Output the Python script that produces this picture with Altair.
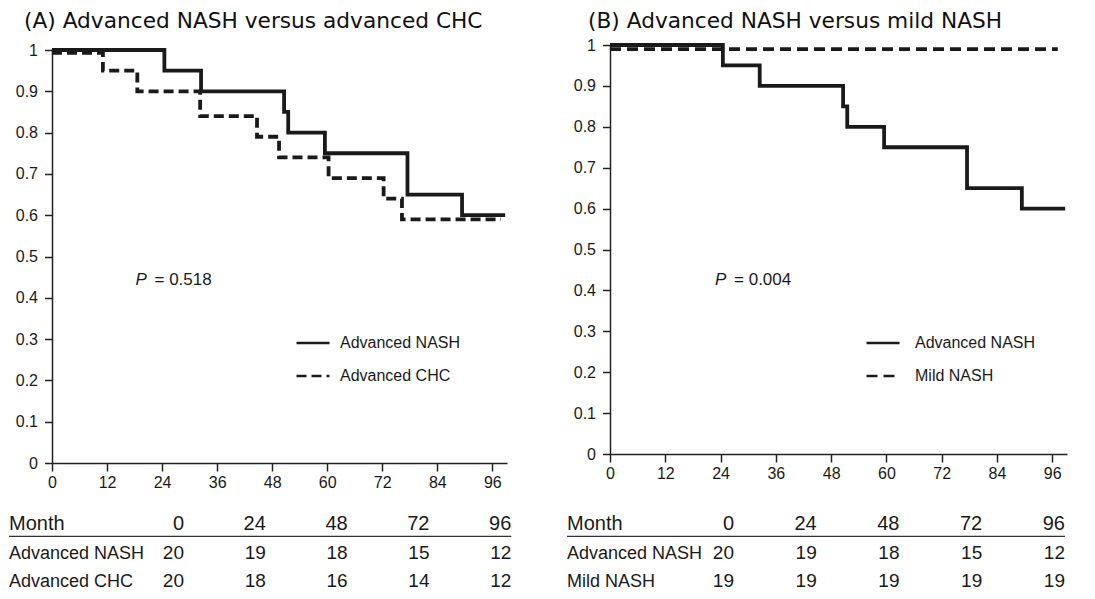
import altair as alt
import pandas as pd

# ---------------- data ----------------
x_ticks = [0, 12, 24, 36, 48, 60, 72, 84, 96]
y_ticks = [0, 0.1, 0.2, 0.3, 0.4, 0.5, 0.6, 0.7, 0.8, 0.9, 1.0]

# Kaplan-Meier steps (month, survival)
adv_nash_month = [0, 24.5, 32.5, 50.6, 51.5, 59.5, 77.5, 89.4, 98.8]
adv_nash_surv = [1.0, 0.95, 0.90, 0.85, 0.80, 0.75, 0.65, 0.60, 0.60]
adv_chc_month = [0, 11.1, 18.6, 32.3, 44.7, 49.5, 60.3, 72.3, 76.3, 97.9]
adv_chc_surv = [0.993, 0.95, 0.90, 0.84, 0.79, 0.74, 0.69, 0.64, 0.59, 0.59]
mild_nash_month = [0, 97.2]
mild_nash_surv = [0.99, 0.99]

# numbers at risk
risk_months = [0, 24, 48, 72, 96]
risk_adv_nash = [20, 19, 18, 15, 12]
risk_adv_chc = [20, 18, 16, 14, 12]
risk_mild_nash = [19, 19, 19, 19, 19]

panel_titles = ["(A) Advanced NASH versus advanced CHC",
                "(B) Advanced NASH versus mild NASH"]
p_values = ["0.518", "0.004"]
p_pos = [(18.2, 0.444), (22.8, 0.425)]

FONT = "Liberation Sans"
INK = "#1a1a1a"


def km_frame(series):
    rows = []
    for name, months, surv in series:
        for m, s in zip(months, surv):
            rows.append({"month": m, "surv": s, "group": name})
    return pd.DataFrame(rows)


def plot_panel(title, series, p_text, p_xy, width, height, y_range,
               legend_x, legend_y, label_offset, dash_range,
               title_dx, title_offset):
    names = [s[0] for s in series]
    df = km_frame(series)
    base = alt.Chart(df)
    lines = base.mark_line(interpolate="step-after", strokeWidth=3.8,
                           color=INK, strokeCap="butt").encode(
        x=alt.X("month:Q",
                scale=alt.Scale(domain=[0, 99.2], nice=False, zero=False),
                axis=alt.Axis(values=x_ticks, title=None, format="d",
                              tickSize=8, labelPadding=3, labelFontSize=16,
                              labelFlush=False)),
        y=alt.Y("surv:Q",
                scale=alt.Scale(domain=[0, 1], nice=False, range=y_range),
                axis=alt.Axis(values=y_ticks, title=None, format=".1~f",
                              tickSize=7.5, labelPadding=7, labelFontSize=16,
                              labelFlush=False)),
        strokeDash=alt.StrokeDash(
            "group:N",
            scale=alt.Scale(domain=names, range=[[1, 0], dash_range]),
            legend=alt.Legend(title=None, orient="none", legendX=legend_x,
                              legendY=legend_y, symbolType="stroke",
                              symbolSize=1089, symbolStrokeWidth=2.6,
                              symbolStrokeColor=INK, labelFontSize=16,
                              labelFont=FONT, labelColor=INK,
                              labelOffset=label_offset, padding=0,
                              rowPadding=7)),
        detail="group:N",
    )
    ann = pd.DataFrame({"month": [p_xy[0]], "surv": [p_xy[1]],
                        "p": ["P"], "val": ["= " + p_text]})
    p_lab = alt.Chart(ann).mark_text(align="left", baseline="middle",
                                     fontStyle="italic", fontSize=17,
                                     font=FONT, color=INK).encode(
        x="month:Q", y="surv:Q", text="p:N")
    p_val = alt.Chart(ann).mark_text(align="left", baseline="middle", dx=19,
                                     fontSize=17, font=FONT, color=INK).encode(
        x="month:Q", y="surv:Q", text="val:N")
    return alt.layer(lines, p_lab, p_val).properties(
        width=width, height=height,
        title=alt.TitleParams(title, anchor="start", frame="group",
                              dx=title_dx, font="DejaVu Sans", fontSize=21.7,
                              fontWeight="normal", color="#111",
                              offset=title_offset))


def table_panel(row_names, row_values, col_range, width):
    r0, r1 = col_range
    slope = (r1 - r0) / (risk_months[-1] - risk_months[0])
    label_col = (-43 - r0) / slope
    xs = alt.Scale(domain=[risk_months[0], risk_months[-1]], range=[r0, r1])
    ys = alt.Scale(domain=[-0.5, 2.5], range=[0, 85])
    head = pd.DataFrame({"col": risk_months, "row": 0,
                         "txt": [str(m) for m in risk_months]})
    body_rows = []
    for i, vals in enumerate(row_values):
        for m, v in zip(risk_months, vals):
            body_rows.append({"col": m, "row": i + 1, "txt": str(v)})
    body = pd.DataFrame(body_rows)
    labels = pd.DataFrame({"col": [label_col] * (len(row_names) + 1),
                           "row": list(range(len(row_names) + 1)),
                           "txt": ["Month"] + row_names,
                           "head": [True] + [False] * len(row_names)})
    rule = pd.DataFrame({"col": [label_col], "col2": [risk_months[-1]],
                         "row": [0.22]})
    enc = dict(x=alt.X("col:Q", scale=xs, axis=None),
               y=alt.Y("row:Q", scale=ys, axis=None))
    h = alt.Chart(head).mark_text(align="right", baseline="alphabetic",
                                  fontSize=20, font=FONT, color=INK).encode(
        text="txt:N", **enc)
    b = alt.Chart(body).mark_text(align="right", baseline="alphabetic",
                                  fontSize=19, font=FONT, color=INK).encode(
        text="txt:N", **enc)
    lh = alt.Chart(labels[labels["head"]]).mark_text(
        align="left", baseline="alphabetic", fontSize=20, font=FONT,
        color=INK).encode(text="txt:N", **enc)
    lb = alt.Chart(labels[~labels["head"]]).mark_text(
        align="left", baseline="alphabetic", fontSize=18, font=FONT,
        color=INK).encode(text="txt:N", **enc)
    r = alt.Chart(rule).mark_rule(color="#333", strokeWidth=1.3).encode(
        x=alt.X("col:Q", scale=xs, axis=None), x2="col2:Q",
        y=alt.Y("row:Q", scale=ys, axis=None))
    return alt.layer(r, h, b, lh, lb).properties(width=width, height=85)


plot_a = plot_panel(panel_titles[0],
                    [("Advanced NASH", adv_nash_month, adv_nash_surv),
                     ("Advanced CHC", adv_chc_month, adv_chc_surv)],
                    p_values[0], p_pos[0], 455, 418, [418, 5],
                    243, 280, 9, [10, 5], -28, 9)
plot_b = plot_panel(panel_titles[1],
                    [("Advanced NASH", adv_nash_month, adv_nash_surv),
                     ("Mild NASH", mild_nash_month, mild_nash_surv)],
                    p_values[1], p_pos[1], 457, 409, [409, 0],
                    255, 280, 14, [11, 6], -22, 4)

table_a = table_panel(["Advanced NASH", "Advanced CHC"],
                      [risk_adv_nash, risk_adv_chc], (132, 459.3), 455)
table_b = table_panel(["Advanced NASH", "Mild NASH"],
                      [risk_adv_nash, risk_mild_nash], (124, 455), 457)

panel_a = alt.vconcat(plot_a, table_a, spacing=24)
panel_b = alt.vconcat(plot_b, table_b, spacing=33)

chart = alt.hconcat(panel_a, panel_b, spacing=53).resolve_scale(
    strokeDash="independent"
).resolve_legend(
    strokeDash="independent"
).properties(
    padding={"top": 3, "left": 0, "right": 0, "bottom": 0},
    background="white"
).configure_view(stroke=None).configure_axis(
    grid=False, domainColor="#222", domainWidth=1.5, tickColor="#222",
    tickWidth=1.5, labelColor=INK, labelFont=FONT
)

chart.save("out.html", embed_options={"renderer": "svg", "actions": False})
